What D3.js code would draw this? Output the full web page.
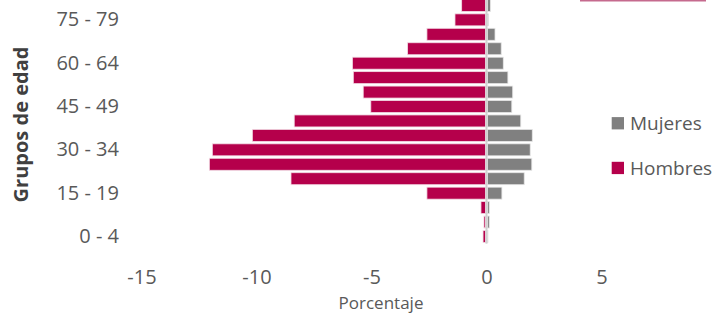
<!DOCTYPE html>
<html>
<head>
<meta charset="utf-8">
<script src="https://cdn.jsdelivr.net/npm/d3@7"></script>
<style>
    body { margin: 0; background: #fff; }
    svg { display: block; font-family: 'Open Sans', 'Noto Sans', sans-serif; }
</style>
</head>
<body>
<svg id="chart" width="719" height="315"></svg>
<script>
'use strict';

// grupos de edad, de abajo hacia arriba
const grupos = ['0 - 4', '5 - 9', '10 - 14', '15 - 19', '20 - 24', '25 - 29', '30 - 34', '35 - 39',
    '40 - 44', '45 - 49', '50 - 54', '55 - 59', '60 - 64', '65 - 69', '70 - 74', '75 - 79', '80 - 84'];
const hombres = [-0.15, -0.11, -0.24, -2.59, -8.5, -12.05, -11.92, -10.18,
    -8.36, -5.03, -5.36, -5.79, -5.83, -3.43, -2.59, -1.37, -1.08];
const mujeres = [0.04, 0.12, 0.12, 0.67, 1.64, 1.97, 1.9, 1.99,
    1.49, 1.1, 1.14, 0.93, 0.73, 0.64, 0.37, 0.08, 0.17];
const xTicks = [-15, -10, -5, 0, 5];
const yTicks = ['0 - 4', '15 - 19', '30 - 34', '45 - 49', '60 - 64', '75 - 79'];

const colorH = '#b5004b';
const colorM = '#808080';

const svg = d3.select('#chart');

const x = d3.scaleLinear().domain([-15, 5]).range([141.5, 601.5]);
const y = d3.scaleBand().domain(grupos).range([243.7, -1.8]).paddingInner(0.17).paddingOuter(0.085);

const rows = grupos.map((g, i) => ({ g: g, h: hombres[i], m: mujeres[i] }));

// barras de hombres
svg.append('g').selectAll('rect')
    .data(rows).enter().append('rect')
    .attr('x', d => x(d.h))
    .attr('y', d => y(d.g))
    .attr('width', d => x(0) - x(d.h) - 1)
    .attr('height', y.bandwidth())
    .style('fill', colorH)
    .style('stroke', '#f2dbe4')
    .style('stroke-width', 0.8);

// barras de mujeres
svg.append('g').selectAll('rect')
    .data(rows).enter().append('rect')
    .attr('x', x(0) + 1)
    .attr('y', d => y(d.g))
    .attr('width', d => Math.max(x(d.m) - x(0) - 1, 0.5))
    .attr('height', y.bandwidth())
    .style('fill', colorM)
    .style('stroke', '#e6e6e6')
    .style('stroke-width', 0.8);

// linea del cero
svg.append('line')
    .attr('x1', x(0)).attr('x2', x(0))
    .attr('y1', y.range()[1]).attr('y2', y.range()[0])
    .style('stroke', '#d0d0d0')
    .style('stroke-width', 2);

// eje x
const xAxis = svg.append('g')
    .attr('transform', 'translate(0,269.5)')
    .call(d3.axisBottom(x).tickValues(xTicks).tickSize(0).tickPadding(0).tickFormat(d => String(d)));
xAxis.select('.domain').remove();
xAxis.selectAll('text')
    .attr('dy', '0.71em')
    .style('font-size', '20px')
    .style('fill', '#595959')
    .style('font-family', "'Open Sans', sans-serif");

// eje y
const yAxis = svg.append('g')
    .attr('transform', 'translate(119,0)')
    .call(d3.axisLeft(y).tickValues(yTicks).tickSize(0).tickPadding(0));
yAxis.select('.domain').remove();
yAxis.selectAll('text')
    .style('font-size', '20px')
    .style('fill', '#595959')
    .style('font-family', "'Open Sans', sans-serif");

// titulos de ejes
svg.append('text')
    .attr('x', 381)
    .attr('y', 309)
    .attr('text-anchor', 'middle')
    .style('font-size', '17px')
    .style('fill', '#595959')
    .text('Porcentaje');

svg.append('text')
    .attr('transform', 'translate(27.5,124.5) rotate(-90)')
    .attr('text-anchor', 'middle')
    .style('font-size', '20px')
    .style('font-weight', 'bold')
    .style('fill', '#404040')
    .text('Grupos de edad');

// leyenda
const legend = [{ name: 'Mujeres', color: colorM, cy: 123.3 }, { name: 'Hombres', color: colorH, cy: 168 }];
const lg = svg.append('g').selectAll('g').data(legend).enter().append('g');
lg.append('rect')
    .attr('x', 611.7)
    .attr('y', d => d.cy - 6.2)
    .attr('width', 12.3)
    .attr('height', 12.3)
    .style('fill', d => d.color);
lg.append('text')
    .attr('x', 630)
    .attr('y', d => d.cy)
    .attr('dy', '0.35em')
    .style('font-size', '19px')
    .style('fill', '#595959')
    .text(d => d.name);

// borde del recuadro superior (recortado)
svg.append('line')
    .attr('x1', 580).attr('x2', 706)
    .attr('y1', 0.5).attr('y2', 0.5)
    .style('stroke', '#c56a8e')
    .style('stroke-width', 2);
</script>
</body>
</html>
